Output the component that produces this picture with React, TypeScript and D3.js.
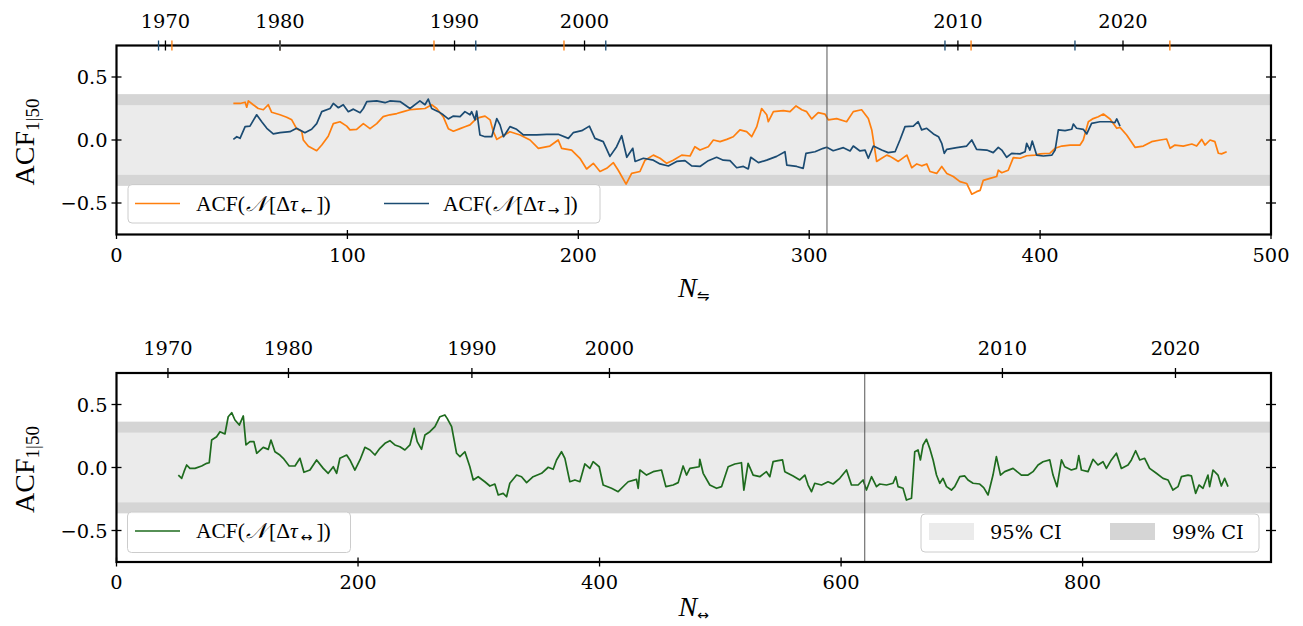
import React from 'react';
import * as d3 from 'd3';

// ---------------- DATA ----------------
// ACF(N[Δτ←]) — backward (orange), x = N⇋
const acfBackward: [number, number][] = [
  [50.6,0.29],[53.5,0.29],[55.7,0.30],[56.4,0.26],[57.1,0.31],[59.2,0.28],[61.4,0.25],[63.6,0.24],[65.7,0.28],[67.2,0.22],
  [70.8,0.20],[73.7,0.18],[75.9,0.16],[78.0,0.09],[80.2,0.07],[80.9,0.0],[83.1,-0.05],[86.7,-0.085],[88.9,-0.04],[91.7,0.03],
  [93.9,0.13],[96.8,0.145],[99.7,0.11],[101.1,0.08],[104.0,0.085],[106.9,0.13],[109.8,0.09],[112.7,0.13],[115.5,0.185],[118.4,0.20],
  [121.4,0.21],[124.2,0.225],[127.1,0.24],[130.0,0.245],[133.6,0.25],[136.5,0.28],[138.7,0.25],[141.5,0.185],[143.7,0.09],[145.9,0.07],
  [148.8,0.09],[150.9,0.105],[153.1,0.12],[155.3,0.16],[157.4,0.18],[159.6,0.19],[161.8,0.16],[163.2,0.066],[164.7,0.005],[166.1,0.02],
  [170.4,0.066],[174.8,0.04],[179.1,0.0],[182.7,-0.066],[187.7,-0.048],[191.3,0.0],[192.8,-0.066],[197.1,-0.08],[200.7,-0.145],[203.6,-0.23],
  [206.5,-0.185],[209.4,-0.25],[212.3,-0.225],[215.2,-0.18],[217.3,-0.24],[220.7,-0.35],[223.1,-0.265],[226.7,-0.25],[228.9,-0.16],[232.5,-0.12],
  [235.4,-0.145],[238.3,-0.185],[241.1,-0.16],[244.8,-0.12],[248.4,-0.127],[250.5,-0.053],[252.7,-0.08],[256.3,-0.053],[258.5,0.0],[261.4,-0.013],
  [264.3,0.005],[267.1,0.026],[270.0,0.08],[272.9,0.066],[275.1,0.026],[277.3,0.106],[279.4,0.25],[281.6,0.20],[282.3,0.145],[284.5,0.225],
  [288.8,0.233],[291.7,0.225],[294.3,0.27],[296.8,0.24],[298.9,0.225],[301.1,0.167],[303.9,0.217],[306.8,0.206],[308.3,0.16],[311.9,0.17],
  [316.2,0.145],[319.1,0.225],[322.7,0.24],[325.6,0.17],[327.1,0.08],[329.2,-0.17],[331.4,-0.145],[333.6,-0.12],[335.0,-0.13],[336.4,-0.145],
  [338.6,-0.17],[342.3,-0.12],[344.4,-0.22],[346.6,-0.19],[348.7,-0.205],[350.9,-0.19],[352.3,-0.25],[355.2,-0.265],[357.4,-0.21],[359.6,-0.265],
  [362.4,-0.29],[365.3,-0.33],[368.2,-0.345],[370.4,-0.43],[372.5,-0.41],[374.0,-0.40],[375.4,-0.32],[378.3,-0.305],[381.2,-0.29],[381.9,-0.24],
  [383.4,-0.26],[386.2,-0.24],[388.4,-0.14],[391.3,-0.145],[394.2,-0.125],[397.8,-0.12],[400.0,-0.11],[404.3,-0.105],[406.5,-0.066],[409.4,-0.048],
  [413.0,-0.04],[417.3,-0.04],[418.7,0.0],[420.9,0.145],[423.0,0.17],[425.2,0.185],[427.4,0.206],[430.3,0.167],[433.2,0.093],[434.6,0.10],
  [437.5,0.04],[441.1,-0.058],[444.7,-0.048],[448.3,-0.013],[452.0,0.0],[454.8,0.008],[456.3,-0.066],[458.4,-0.04],[462.0,-0.048],[465.7,-0.032],
  [467.8,-0.048],[470.0,0.005],[471.4,-0.04],[473.6,0.0],[475.7,-0.013],[477.2,-0.105],[478.6,-0.11],[480.8,-0.093],
];

// ACF(N[Δτ→]) — forward (blue), x = N⇋
const acfForward: [number, number][] = [
  [50.6,0.005],[52.1,0.026],[53.5,0.013],[55.7,0.106],[57.8,0.11],[60.7,0.20],[62.9,0.145],[65.1,0.093],[67.9,0.048],[70.8,0.058],
  [75.1,0.066],[78.0,0.093],[81.6,0.058],[84.5,0.085],[86.7,0.13],[88.9,0.225],[92.5,0.25],[93.9,0.29],[96.1,0.256],[98.2,0.28],
  [100.4,0.225],[102.6,0.245],[105.5,0.217],[106.9,0.25],[108.4,0.305],[112.7,0.31],[116.3,0.296],[118.4,0.31],[122.8,0.305],[127.1,0.25],
  [131.4,0.31],[133.6,0.28],[135.0,0.325],[136.5,0.25],[139.4,0.225],[141.5,0.20],[143.7,0.167],[145.9,0.19],[148.8,0.185],[150.9,0.225],
  [153.1,0.20],[153.8,0.225],[155.3,0.16],[156.0,0.23],[157.4,0.04],[159.6,0.026],[162.5,0.026],[164.7,0.17],[166.1,0.12],[167.6,0.026],
  [170.4,0.106],[173.3,0.085],[176.2,0.04],[182.0,0.04],[186.3,0.045],[191.3,0.045],[195.7,0.013],[197.8,0.058],[201.5,0.074],[204.8,0.11],
  [207.2,0.013],[210.8,-0.013],[213.7,-0.13],[216.6,-0.053],[218.8,0.034],[221.0,-0.137],[223.6,-0.066],[224.6,-0.17],[228.2,-0.145],[232.5,-0.16],
  [235.4,-0.19],[239.0,-0.206],[242.6,-0.17],[246.2,-0.164],[249.1,-0.206],[252.7,-0.21],[256.3,-0.164],[259.9,-0.137],[262.8,-0.16],[265.7,-0.164],
  [268.6,-0.22],[271.5,-0.21],[273.6,-0.23],[274.7,-0.137],[278.0,-0.18],[281.6,-0.16],[285.9,-0.13],[289.5,-0.093],[290.3,-0.20],[294.6,-0.21],
  [297.4,-0.225],[298.6,-0.106],[302.5,-0.093],[306.1,-0.066],[307.6,-0.058],[310.4,-0.085],[314.8,-0.061],[317.7,-0.087],[319.1,-0.048],[322.0,-0.087],
  [324.2,-0.08],[325.6,-0.145],[327.8,-0.048],[331.4,-0.08],[334.2,-0.10],[337.2,-0.093],[339.3,0.0],[341.5,0.106],[345.1,0.11],[347.2,0.145],
  [348.7,0.08],[350.9,0.093],[353.8,0.048],[356.0,0.026],[357.4,-0.026],[358.5,-0.106],[359.6,-0.074],[363.9,-0.061],[368.2,-0.048],[370.4,0.0],
  [372.5,-0.074],[376.9,-0.08],[379.7,-0.10],[381.9,-0.058],[383.4,-0.08],[385.5,-0.137],[387.7,-0.106],[391.3,-0.11],[393.5,-0.093],[394.2,-0.026],
  [395.6,-0.08],[396.6,-0.008],[398.5,-0.12],[401.4,-0.127],[405.1,-0.12],[406.5,-0.08],[407.9,0.08],[410.8,0.074],[413.7,0.085],[414.4,0.127],
  [415.8,0.093],[418.7,0.085],[420.2,0.048],[422.3,0.132],[425.9,0.145],[430.3,0.145],[432.4,0.137],[433.2,0.167],[434.6,0.11],
];

// ACF(N[Δτ↔]) — combined (green), x = N↔
const acfBoth: [number, number][] = [
  [51.2,-0.06],[54.0,-0.086],[55.9,-0.033],[58.1,0.02],[60.8,-0.007],[65.0,-0.007],[70.5,0.012],[74.7,0.033],[76.8,0.038],[78.8,0.218],
  [82.9,0.244],[85.7,0.284],[89.8,0.266],[92.5,0.403],[95.4,0.435],[98.1,0.377],[101.7,0.337],[105.0,0.409],[107.2,0.179],[110.5,0.205],
  [113.8,0.205],[116.1,0.113],[121.5,0.16],[125.7,0.144],[127.9,0.218],[131.2,0.125],[135.3,0.099],[138.1,0.073],[143.0,0.012],[147.8,0.012],
  [151.9,0.073],[155.2,-0.038],[160.2,-0.02],[165.7,0.06],[171.2,-0.007],[175.3,-0.046],[179.5,0.006],[182.3,-0.046],[185.0,0.073],[190.6,0.099],
  [193.3,0.06],[197.4,-0.02],[201.6,0.06],[205.7,0.16],[209.9,0.139],[214.0,0.099],[218.1,0.152],[222.3,0.192],[226.4,0.213],[230.5,0.179],
  [234.7,0.165],[238.8,0.139],[243.0,0.179],[246.5,0.311],[249.0,0.205],[252.6,0.144],[255.4,0.258],[259.5,0.284],[263.7,0.324],[267.8,0.403],
  [271.9,0.417],[273.8,0.39],[277.5,0.324],[281.6,0.113],[284.4,0.086],[288.5,0.125],[292.6,0.006],[295.4,-0.099],[299.5,-0.073],[305.0,-0.113],
  [309.2,-0.147],[313.3,-0.131],[316.1,-0.218],[320.2,-0.205],[323.0,-0.232],[325.7,-0.125],[331.3,-0.06],[335.4,-0.073],[339.6,-0.12],[345.0,-0.073],
  [352.0,-0.046],[357.5,0.002],[361.6,-0.014],[364.4,0.06],[368.5,0.125],[371.3,0.073],[375.4,-0.113],[379.6,-0.099],[383.7,-0.113],[387.8,0.028],
  [392.0,-0.007],[394.7,0.046],[399.7,0.006],[403.0,-0.139],[409.9,-0.165],[415.4,-0.192],[420.9,-0.139],[423.7,-0.113],[430.6,-0.094],[432.0,-0.165],
  [433.4,-0.02],[438.9,-0.06],[444.4,-0.033],[451.3,-0.02],[454.9,-0.152],[460.9,-0.139],[465.1,-0.12],[469.2,0.012],[472.0,-0.06],[474.8,-0.007],
  [482.5,0.006],[483.0,0.065],[485.8,-0.046],[491.3,-0.139],[496.9,-0.165],[501.0,-0.152],[506.5,0.006],[512.0,0.028],[517.5,0.038],[519.5,-0.179],
  [523.0,0.033],[527.2,-0.06],[532.7,-0.073],[538.2,-0.033],[541.0,-0.073],[543.7,0.046],[547.8,0.054],[551.5,0.06],[553.4,-0.033],[560.3,-0.067],
  [565.8,-0.099],[570.0,-0.06],[572.7,-0.139],[575.5,-0.192],[578.2,-0.125],[583.8,-0.139],[589.2,-0.113],[593.4,-0.131],[598.9,-0.086],[604.5,-0.02],
  [608.6,-0.139],[614.1,-0.139],[618.2,-0.099],[621.0,-0.179],[625.2,-0.073],[629.3,-0.152],[632.0,-0.131],[637.6,-0.139],[643.0,-0.125],[645.3,-0.073],
  [647.2,-0.152],[651.3,-0.165],[654.1,-0.258],[658.3,-0.244],[661.0,0.125],[663.7,0.139],[665.7,0.06],[667.9,0.179],[670.7,0.224],[673.4,0.152],
  [676.2,0.06],[679.0,-0.06],[681.7,-0.125],[684.4,-0.086],[687.3,-0.152],[691.4,-0.179],[694.1,-0.152],[698.3,-0.073],[702.4,-0.067],[705.1,-0.099],
  [709.3,-0.125],[714.8,-0.131],[718.1,-0.16],[721.7,-0.218],[725.8,-0.06],[728.6,0.086],[732.0,-0.06],[735.5,-0.033],[742.4,-0.007],[749.3,-0.06],
  [754.8,-0.06],[758.9,-0.033],[763.1,0.02],[767.2,0.046],[772.8,0.06],[775.5,-0.06],[778.8,-0.152],[782.5,0.06],[785.2,0.006],[790.7,-0.02],
  [794.9,-0.007],[796.8,0.094],[799.0,-0.02],[804.5,-0.033],[808.6,0.065],[812.7,0.02],[816.9,0.046],[819.7,-0.007],[823.8,0.06],[828.0,0.113],
  [832.1,-0.007],[837.6,0.02],[840.4,0.06],[843.9,0.133],[847.3,0.06],[851.4,0.073],[855.5,-0.007],[861.1,-0.046],[866.6,-0.086],[870.7,-0.099],
  [874.8,-0.179],[879.0,-0.152],[881.8,-0.073],[887.3,-0.06],[890.1,-0.067],[893.6,-0.205],[896.4,-0.139],[899.7,-0.165],[903.8,-0.06],[905.2,-0.152],
  [908.0,-0.02],[912.1,-0.06],[914.9,-0.147],[917.6,-0.086],[920.4,-0.152],
];

// calendar-year ticks on the secondary (top) axes
const yearLabels = [1970, 1980, 1990, 2000, 2010, 2020];
const yearAtNBoth = [42.6, 142.4, 294.3, 408.2, 733.6, 876.9];   // N↔
const yearAtNHalf = [21.2, 70.8, 146.4, 202.7, 364.4, 435.9];     // N⇋ (combined)
const yearAtNFwd = [18.2, 70.8, 155.6, 211.9, 358.8, 415.1];      // N⇋ (→)
const yearAtNBwd = [24.0, 70.8, 137.5, 193.8, 370.1, 456.2];      // N⇋ (←)

const xTicksTop = [0, 100, 200, 300, 400, 500];
const xTicksBot = [0, 200, 400, 600, 800];
const yTicks = [-0.5, 0.0, 0.5];
const ci95 = 0.277;
const ci99 = 0.364;
const markerTop = 307.7;
const markerBot = 619.6;

// ---------------- STYLE ----------------
const ORANGE = '#ff7f0e';
const BLUE = '#1b4b72';
const GREEN = '#1e6b1e';
const LIGHT = '#ebebeb';
const DARK = '#d5d5d5';
const TICKFONT = '"DejaVu Serif", serif';
const MATHFONT = '"Liberation Serif", "DejaVu Serif", serif';
const TICKSIZE = 19.4;

const L = 116.5, R = 1271;

function fmt(v: number) {
  const s = v.toFixed(1);
  return v < 0 ? '\u2212' + s.slice(1) : s;
}

type PanelProps = {
  top: number; bottom: number; xMax: number; xTicks: number[];
  series: { data: [number, number][]; color: string }[];
  marker: number;
};

function Panel({ top, bottom, xMax, xTicks, series, marker }: PanelProps) {
  const x = d3.scaleLinear().domain([0, xMax]).range([L, R]);
  const y = d3.scaleLinear().domain([-0.75, 0.75]).range([bottom, top]);
  const line = d3.line<[number, number]>().x(d => x(d[0])).y(d => y(d[1]));
  return (
    <g>
      <rect x={L} width={R - L} y={y(ci99)} height={y(-ci99) - y(ci99)} fill={DARK} />
      <rect x={L} width={R - L} y={y(ci95)} height={y(-ci95) - y(ci95)} fill={LIGHT} />
      {series.map((s, i) => (
        <path key={i} d={line(s.data) || ''} fill="none" stroke={s.color} strokeWidth={1.7} strokeLinejoin="round" />
      ))}
      <line x1={x(marker)} x2={x(marker)} y1={top} y2={bottom} stroke="#555" strokeWidth={1} />
      {xTicks.map(t => (
        <g key={t}>
          <line x1={x(t)} x2={x(t)} y1={bottom - 4.5} y2={bottom + 4.5} stroke="#000" strokeWidth={1.3} />
          <text x={x(t)} y={bottom + 27} textAnchor="middle" fontFamily={TICKFONT} fontSize={TICKSIZE}>{t}</text>
        </g>
      ))}
      {yTicks.map(t => (
        <g key={t}>
          <line x1={L - 5} x2={L + 5} y1={y(t)} y2={y(t)} stroke="#000" strokeWidth={1.3} />
          <line x1={R - 5} x2={R + 5} y1={y(t)} y2={y(t)} stroke="#000" strokeWidth={1.3} />
          <text x={L - 9} y={y(t) + 7} textAnchor="end" fontFamily={TICKFONT} fontSize={TICKSIZE}>{fmt(t)}</text>
        </g>
      ))}
    </g>
  );
}

function Frame({ top, bottom }: { top: number; bottom: number }) {
  return <rect x={L} y={top} width={R - L} height={bottom - top} fill="none" stroke="#000" strokeWidth={2.2} />;
}

function AcfLabel({ cx, cy, sub, color, lx }: { cx: number; cy: number; sub: string; color: string; lx: number }) {
  return (
    <g>
      <line x1={lx} x2={lx + 45} y1={cy} y2={cy} stroke={color} strokeWidth={1.7} />
      <text x={cx} y={cy + 7} fontFamily={MATHFONT} fontSize={21.5}>
        ACF(
        <tspan dx={1} fontFamily='"DejaVu Serif", "DejaVu Sans", serif' fontStyle="italic">{'\uD835\uDCA9'}</tspan>
        <tspan dx={2}>[Δ</tspan><tspan fontStyle="italic">τ</tspan>
        <tspan fontSize={14} dy={4} dx={3} fontFamily='"DejaVu Sans", sans-serif'>{sub}</tspan>
        <tspan dy={-4} dx={4}>])</tspan>
      </text>
    </g>
  );
}

export default function App() {
  const W = 1303, H = 626;
  const tTop = 45.5, tBot = 234.5;
  const bTop = 373, bBot = 562;
  const xTop = d3.scaleLinear().domain([0, 500]).range([L, R]);
  const xBot = d3.scaleLinear().domain([0, 956]).range([L, R]);

  return (
    <svg width={W} height={H} style={{ position: 'absolute', left: 0, top: 0, background: '#fff' }}>
      <rect width={W} height={H} fill="#fff" />
      {/* ---- top panel ---- */}
      <Panel top={tTop} bottom={tBot} xMax={500} xTicks={xTicksTop} marker={markerTop}
        series={[{ data: acfBackward, color: ORANGE }, { data: acfForward, color: BLUE }]} />
      <rect x={128} y={184.5} width={472} height={38.5} rx={4} fill="#fff" fillOpacity={0.8} stroke="#cccccc" strokeWidth={1} />
      <AcfLabel cx={196} cy={203.5} sub="←" color={ORANGE} lx={135} />
      <AcfLabel cx={443} cy={203.5} sub="→" color={BLUE} lx={384} />
      <Frame top={tTop} bottom={tBot} />
      {yearAtNHalf.map((n, i) => (
        <g key={'h' + i}>
          <line x1={xTop(n)} x2={xTop(n)} y1={tTop - 5} y2={tTop + 5} stroke="#000" strokeWidth={1.3} />
          <text x={xTop(n)} y={28} textAnchor="middle" fontFamily={TICKFONT} fontSize={TICKSIZE}>{yearLabels[i]}</text>
        </g>
      ))}
      {yearAtNBwd.map((n, i) => (
        <line key={'b' + i} x1={xTop(n)} x2={xTop(n)} y1={tTop - 5} y2={tTop + 5} stroke={ORANGE} strokeWidth={1.3} />
      ))}
      {yearAtNFwd.map((n, i) => (
        <line key={'f' + i} x1={xTop(n)} x2={xTop(n)} y1={tTop - 5} y2={tTop + 5} stroke={BLUE} strokeWidth={1.3} />
      ))}
      <text transform={`translate(34,${(tTop + tBot) / 2 + 2}) rotate(-90)`} textAnchor="middle" fontFamily={MATHFONT} fontSize={28}>
        ACF<tspan fontSize={19} dy={5}>1|50</tspan>
      </text>
      <text x={(L + R) / 2} y={297} textAnchor="middle" fontFamily={MATHFONT} fontSize={28} fontStyle="italic">
        N<tspan fontStyle="normal" fontSize={15} dy={4} fontFamily='"DejaVu Sans", sans-serif'>⇋</tspan>
      </text>

      {/* ---- bottom panel ---- */}
      <Panel top={bTop} bottom={bBot} xMax={956} xTicks={xTicksBot} marker={markerBot}
        series={[{ data: acfBoth, color: GREEN }]} />
      <rect x={127.5} y={512} width={223} height={40.5} rx={4} fill="#fff" fillOpacity={0.8} stroke="#cccccc" strokeWidth={1} />
      <AcfLabel cx={196} cy={531} sub="↔" color={GREEN} lx={135} />
      <rect x={921} y={514} width={338} height={38} rx={4} fill="#fff" fillOpacity={0.8} stroke="#cccccc" strokeWidth={1} />
      <rect x={929} y={523} width={45} height={17} fill={LIGHT} />
      <text x={990} y={539} fontFamily={TICKFONT} fontSize={TICKSIZE}>95% CI</text>
      <rect x={1110} y={523} width={45} height={17} fill={DARK} />
      <text x={1172} y={539} fontFamily={TICKFONT} fontSize={TICKSIZE}>99% CI</text>
      <Frame top={bTop} bottom={bBot} />
      {yearAtNBoth.map((n, i) => (
        <g key={'y' + i}>
          <line x1={xBot(n)} x2={xBot(n)} y1={bTop - 5} y2={bTop + 5} stroke="#000" strokeWidth={1.3} />
          <text x={xBot(n)} y={355} textAnchor="middle" fontFamily={TICKFONT} fontSize={TICKSIZE}>{yearLabels[i]}</text>
        </g>
      ))}
      <text transform={`translate(34,${(bTop + bBot) / 2 + 2}) rotate(-90)`} textAnchor="middle" fontFamily={MATHFONT} fontSize={28}>
        ACF<tspan fontSize={19} dy={5}>1|50</tspan>
      </text>
      <text x={(L + R) / 2} y={616} textAnchor="middle" fontFamily={MATHFONT} fontSize={28} fontStyle="italic">
        N<tspan fontStyle="normal" fontSize={14} dy={4} fontFamily='"DejaVu Sans", sans-serif'>↔</tspan>
      </text>
    </svg>
  );
}
